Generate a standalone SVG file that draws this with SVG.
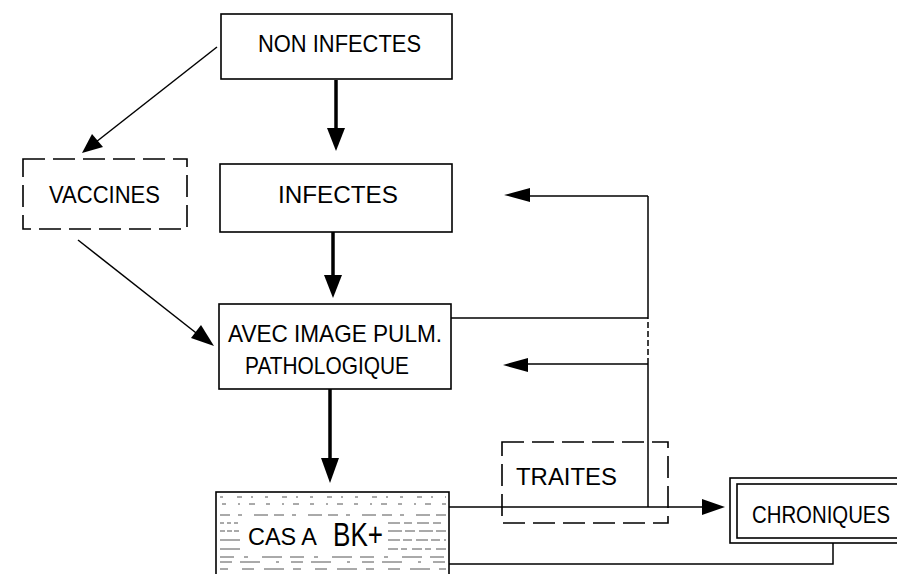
<svg xmlns="http://www.w3.org/2000/svg" width="897" height="574" viewBox="0 0 897 574">
<style>
.box{fill:none;stroke:#000;stroke-width:1.6}
.dash{fill:none;stroke:#000;stroke-width:1.6;stroke-dasharray:22 8}
.t{font-family:"Liberation Sans",Arial,sans-serif;font-size:24px;fill:#000}
.big{font-size:33px}
.thick{stroke:#000;stroke-width:3.5;fill:none}
.thin{stroke:#000;stroke-width:1.5;fill:none}
.head{fill:#000;stroke:none}
.hatch{stroke:#555;stroke-width:1}
</style>
<rect width="897" height="574" fill="#fff"/>
<g id="connectors">
  <line class="thick" x1="336" y1="80" x2="336" y2="130"/>
  <polygon class="head" points="327,128 345,128 336,151"/>
  <line class="thick" x1="333" y1="232" x2="333" y2="277"/>
  <polygon class="head" points="324,275 342,275 333,298"/>
  <line class="thick" x1="330" y1="389" x2="330" y2="460"/>
  <polygon class="head" points="321,458 339,458 330,483"/>
  <line class="thin" x1="217" y1="47" x2="96" y2="142"/>
  <polygon class="head" points="82,153 92,134 103,147"/>
  <line class="thin" x1="78" y1="240" x2="200" y2="336"/>
  <polygon class="head" points="214,346 191,338 201,325"/>
  <line class="thin" x1="449" y1="507" x2="704" y2="507"/>
  <polygon class="head" points="725,507 702,499 702,515"/>
  <line class="thin" x1="648" y1="507" x2="648" y2="364"/>
  <line class="thin" x1="648" y1="364" x2="648" y2="318" stroke-dasharray="6 3"/>
  <line class="thin" x1="648" y1="318" x2="648" y2="196"/>
  <line class="thin" x1="648" y1="196" x2="528" y2="196"/>
  <polygon class="head" points="504,195 530,188 530,202"/>
  <line class="thin" x1="451" y1="318" x2="648" y2="318"/>
  <line class="thin" x1="648" y1="364" x2="526" y2="364"/>
  <polygon class="head" points="503,365 528,358 528,372"/>
  <polyline class="thin" points="449,564 833,564 833,543"/>
</g>
<g id="node-non-infectes">
  <rect class="box" x="221" y="14" width="231" height="65"/>
  <text class="t" x="258" y="52" textLength="163" lengthAdjust="spacingAndGlyphs">NON INFECTES</text>
</g>
<g id="node-vaccines">
  <rect class="dash" x="23" y="159" width="164" height="70"/>
  <text class="t" x="49" y="203" textLength="111" lengthAdjust="spacingAndGlyphs">VACCINES</text>
</g>
<g id="node-infectes">
  <rect class="box" x="220" y="164" width="232" height="68"/>
  <text class="t" x="278" y="203" textLength="120" lengthAdjust="spacingAndGlyphs">INFECTES</text>
</g>
<g id="node-avec-image">
  <rect class="box" x="219" y="304" width="232" height="85"/>
  <text class="t" x="228" y="342" textLength="214" lengthAdjust="spacingAndGlyphs">AVEC IMAGE PULM.</text>
  <text class="t" x="245" y="374" textLength="164" lengthAdjust="spacingAndGlyphs">PATHOLOGIQUE</text>
</g>
<g id="node-cas">
  <rect class="box" x="216" y="492" width="233" height="90"/>
  <g class="hatch">
    <line x1="220" y1="497" x2="446" y2="497" stroke-dasharray="3 14 5 9 2 12"/>
    <line x1="222" y1="504" x2="446" y2="504" stroke-dasharray="4 12 2 9 6 11"/>
    <line x1="220" y1="515" x2="446" y2="515" stroke-dasharray="10 8 4 12 14 6"/>
    <line x1="220" y1="523" x2="240" y2="523" stroke-dasharray="4 3"/>
    <line x1="388" y1="523" x2="446" y2="523" stroke-dasharray="12 4 8 5"/>
    <line x1="220" y1="531" x2="240" y2="531" stroke-dasharray="5 2"/>
    <line x1="388" y1="531" x2="446" y2="531" stroke-dasharray="14 3 10 4"/>
    <line x1="220" y1="540" x2="240" y2="540"/>
    <line x1="388" y1="540" x2="446" y2="540" stroke-dasharray="12 3 9 4"/>
    <line x1="220" y1="549" x2="240" y2="549"/>
    <line x1="388" y1="549" x2="446" y2="549" stroke-dasharray="10 3 6 5"/>
    <line x1="220" y1="557" x2="446" y2="557" stroke-dasharray="14 10 4 14 20 8"/>
    <line x1="220" y1="562" x2="446" y2="562" stroke-dasharray="12 8 20 16 3 12"/>
    <line x1="220" y1="569" x2="446" y2="569" stroke-dasharray="8 14 12 10 20 9"/>
  </g>
  <text class="t" x="248" y="545" textLength="69" lengthAdjust="spacingAndGlyphs">CAS A</text>
  <text class="t big" x="333" y="546" textLength="50" lengthAdjust="spacingAndGlyphs">BK+</text>
</g>
<g id="node-traites">
  <rect class="dash" x="502" y="442" width="166" height="81"/>
  <text class="t" x="516" y="485" textLength="101" lengthAdjust="spacingAndGlyphs">TRAITES</text>
</g>
<g id="node-chroniques">
  <rect class="box" x="730" y="478" width="180" height="65"/>
  <rect class="box" x="737" y="484" width="170" height="54"/>
  <text class="t" x="752" y="523" textLength="138" lengthAdjust="spacingAndGlyphs">CHRONIQUES</text>
</g>
</svg>
